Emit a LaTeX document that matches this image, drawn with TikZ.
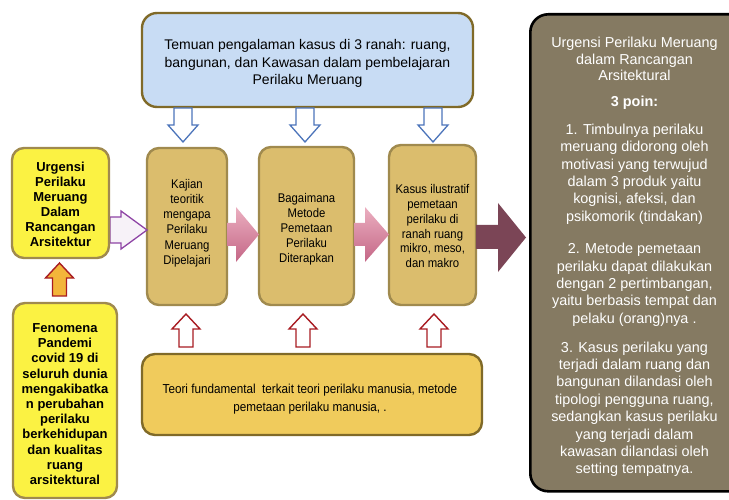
\documentclass[tikz,border=0pt]{standalone}
\usepackage{fontspec}
\setmainfont{Liberation Sans}
\newfontfamily\narrowfont[FakeStretch=0.9]{Liberation Sans}
\definecolor{bluefill}{HTML}{C8DCF4}
\definecolor{olivebd}{HTML}{806A28}
\definecolor{tanfill}{HTML}{DBBD6D}
\definecolor{tanbd}{HTML}{A08A4E}
\definecolor{yelfill}{HTML}{FBF243}
\definecolor{goldfill}{HTML}{F0CB5C}
\definecolor{darkfill}{HTML}{857A62}
\definecolor{pinktop}{HTML}{EBAFC0}
\definecolor{pinkbot}{HTML}{C46686}
\definecolor{maroon}{HTML}{7B4556}
\definecolor{purplebd}{HTML}{8E44A5}
\definecolor{purplefill}{HTML}{F7F2F8}
\definecolor{orangefill}{HTML}{F3B53A}
\definecolor{redbd}{HTML}{A81C22}
\definecolor{bluebd}{HTML}{4C74BA}
\begin{document}
\begin{tikzpicture}[x=1pt,y=-1pt,
  box/.style={rectangle, rounded corners=12pt, line width=2.4pt, inner sep=0pt},
  bluebox/.style={box, rounded corners=15pt, fill=bluefill, draw=olivebd},
  tanbox/.style={box, fill=tanfill, draw=tanbd},
  yelbox/.style={box, fill=yelfill, draw=tanbd},
  goldbox/.style={box, rounded corners=13pt, fill=goldfill, draw=olivebd},
  darkbox/.style={box, rounded corners=18pt, fill=darkfill, draw=black, line width=2.6pt},
  txt/.style={inner sep=0pt, align=center, anchor=north},
  tantxt/.style={txt, font=\narrowfont\fontsize{12.6}{15.2}\selectfont},
  yeltxt/.style={txt, font=\bfseries\fontsize{13}{15.1}\selectfont},
  whitetxt/.style={txt, text=white, font=\fontsize{14.4}{17.4}\selectfont},
  bluearrow/.style={draw=bluebd, fill=white, line width=1.3pt, line join=miter},
  redarrow/.style={draw=redbd, fill=white, line width=1.4pt, line join=miter},
  orangearrow/.style={draw=redbd, fill=orangefill, line width=1.4pt, line join=miter},
  pinkarrow/.style={top color=pinktop, bottom color=pinkbot, draw=none},
  maroonarrow/.style={fill=maroon, draw=none},
  purplearrow/.style={draw=purplebd, fill=purplefill, line width=1.3pt, line join=miter},
  downarr/.pic={\path[pic actions] (-9,0) -- (9,0) -- (9,17) -- (15,17) -- (0,34) -- (-15,17) -- (-9,17) -- cycle;},
  uparr/.pic={\path[pic actions] (0,0) -- (14,15) -- (7,15) -- (7,33) -- (-7,33) -- (-7,15) -- (-14,15) -- cycle;}
]
\useasboundingbox (0,0) rectangle (729,500);
\clip (0,0) rectangle (729,500);

% top blue box
\node[bluebox, minimum width=331, minimum height=94] (top) at (307.5,60) {};
\node[txt, font=\fontsize{14}{17.3}\selectfont] (topT) at (307.5,39.5)
  {Temuan pengalaman kasus di 3 ranah: ruang,\\bangunan, dan Kawasan dalam pembelajaran\\Perilaku Meruang};

% blue down arrows
\pic[bluearrow] at (183,108) {downarr};
\pic[bluearrow] at (305,108) {downarr};
\pic[bluearrow] at (433,108) {downarr};

% tan boxes
\node[tanbox, minimum width=80, minimum height=157] (k1) at (187,226.5) {};
\node[tanbox, minimum width=95, minimum height=158] (k2) at (306.5,226) {};
\node[tanbox, minimum width=87, minimum height=160] (k3) at (432.5,225) {};
\node[tantxt] (k1T) at (187,179) {Kajian\\teoritik\\mengapa\\Perilaku\\Meruang\\Dipelajari};
\node[tantxt] (k2T) at (306.5,192.7) {Bagaimana\\Metode\\Pemetaan\\Perilaku\\Diterapkan};
\node[tantxt, font=\narrowfont\fontsize{12.6}{14.8}\selectfont] (k3T) at (432.5,184.3) {Kasus ilustratif\\pemetaan\\perilaku di\\ranah ruang\\mikro, meso,\\dan makro};

% horizontal arrows
\path[pinkarrow] (227,223) -- (236,223) -- (236,207) -- (259,234.5) -- (236,262) -- (236,246) -- (227,246) -- cycle;
\path[pinkarrow] (354,223) -- (365,223) -- (365,207) -- (389,234.5) -- (365,262) -- (365,246) -- (354,246) -- cycle;
\path[maroonarrow] (476,225) -- (498,225) -- (498,203) -- (526,237.5) -- (498,272) -- (498,249) -- (476,249) -- cycle;
\path[purplearrow] (110,217) -- (121,217) -- (121,211) -- (147,230) -- (121,249) -- (121,243) -- (110,243) -- cycle;

% left yellow boxes
\node[yelbox, minimum width=97, minimum height=110] (u) at (60.5,203) {};
\node[yeltxt] (uT) at (60.5,161.5) {Urgensi\\Perilaku\\Meruang\\Dalam\\Rancangan\\Arsitektur};
\node[yelbox, minimum width=104, minimum height=195] (f) at (65,400.5) {};
\node[yeltxt, font=\bfseries\fontsize{13}{15.2}\selectfont] (fT) at (65,323.3) {Fenomena\\Pandemi\\covid 19 di\\seluruh dunia\\mengakibatka\\n perubahan\\perilaku\\berkehidupan\\dan kualitas\\ruang\\arsitektural};
\pic[orangearrow] at (59.5,263) {uparr};

% red up arrows
\pic[redarrow] at (186,314) {uparr};
\pic[redarrow] at (303,314) {uparr};
\pic[redarrow] at (434,314) {uparr};

% bottom box
\node[goldbox, minimum width=340, minimum height=81] (b) at (312,394.5) {};
\node[txt, font=\narrowfont\fontsize{13}{17.5}\selectfont] (bT) at (310,384)
  {Teori fundamental\ \ terkait teori perilaku manusia, metode\\pemetaan perilaku manusia, .};

% right dark box
\node[darkbox, minimum width=240, minimum height=477, anchor=north west] (r) at (529,13) {};
\node[whitetxt, font=\fontsize{14.4}{16.4}\selectfont] (r0) at (634.5,37) {Urgensi Perilaku Meruang\\dalam Rancangan\\Arsitektural};
\node[whitetxt, font=\bfseries\fontsize{14.4}{17.4}\selectfont] (r1) at (634.5,95.5) {3 poin:};
\node[whitetxt] (r2) at (634.5,123.7) {1. Timbulnya perilaku\\meruang didorong oleh\\motivasi yang terwujud\\dalam 3 produk yaitu\\kognisi, afeksi, dan\\psikomorik (tindakan)};
\node[whitetxt] (r3) at (634.5,243) {2. Metode pemetaan\\perilaku dapat dilakukan\\dengan 2 pertimbangan,\\yaitu berbasis tempat dan\\pelaku (orang)nya .};
\node[whitetxt] (r4) at (634.5,341.5) {3. Kasus perilaku yang\\terjadi dalam ruang dan\\bangunan dilandasi oleh\\tipologi pengguna ruang,\\sedangkan kasus perilaku\\yang terjadi dalam\\kawasan dilandasi oleh\\setting tempatnya.};
\end{tikzpicture}
\end{document}
